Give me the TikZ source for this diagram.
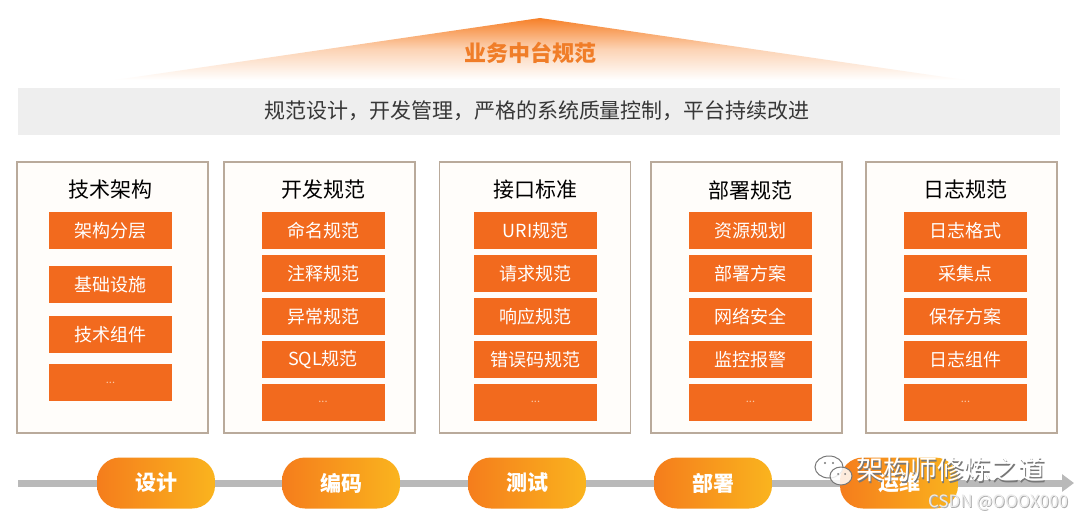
\documentclass[tikz,border=0pt]{standalone}
\usepackage{fontspec}
\setmainfont{Noto Sans CJK SC}
\usetikzlibrary{arrows.meta,shadings}
\definecolor{ora}{RGB}{242,106,30}
\definecolor{boxline}{RGB}{185,170,155}
\definecolor{cream}{RGB}{255,253,250}
\definecolor{barbg}{RGB}{238,238,238}
\definecolor{bartext}{RGB}{55,55,55}
\definecolor{titleora}{RGB}{240,125,40}
\definecolor{triora}{RGB}{246,128,40}
\definecolor{pillL}{RGB}{245,125,28}
\definecolor{pillR}{RGB}{250,180,30}
\definecolor{flowgray}{RGB}{185,185,185}
\definecolor{dotc}{RGB}{250,200,165}
\definecolor{wmgray}{RGB}{120,120,120}
\tikzset{
  colbox/.style={draw=boxline, line width=1.3pt, fill=cream, minimum width=191pt, minimum height=271pt, inner sep=0pt},
  coltitle/.style={font=\fontsize{21}{24}\selectfont, text=black, inner sep=0pt},
  item/.style={fill=ora, minimum width=123pt, minimum height=37pt, inner sep=0pt, text=white, font=\fontsize{18}{21}\selectfont},
  dotitem/.style={item, text=dotc, font=\fontsize{11}{12}\selectfont},
  pill/.style={minimum width=118pt, minimum height=51pt, rounded corners=23pt, left color=pillL, right color=pillR, text=white, font=\bfseries\fontsize{21}{24}\selectfont, inner sep=0pt},
  flow/.style={draw=flowgray, line width=7pt},
  wmtext/.style={font=\fontsize{27}{30}\selectfont, inner sep=0pt},
}
\begin{document}
\begin{tikzpicture}[x=1pt,y=-1pt]
\useasboundingbox (0,0) rectangle (1080,520);
\fill[white] (0,0) rectangle (1080,520);
% top triangle
\shade[top color=triora, bottom color=white, middle color=triora!35] (540,18) -- (965,80) -- (115,80) -- cycle;
\node[font=\bfseries\fontsize{22}{25}\selectfont, text=titleora, inner sep=0pt] (title) at (530,53) {业务中台规范};
% gray bar
\node[fill=barbg, minimum width=1042pt, minimum height=47pt, inner sep=0pt] (bar) at (539,111) {};
\node[font=\fontsize{21}{24}\selectfont, text=bartext, inner sep=0pt] (bartxt) at (537,111) {规范设计，开发管理，严格的系统质量控制，平台持续改进};
% columns
\node[colbox] (c1) at (112.5,297.5) {};
\node[colbox] (c2) at (319.5,297.5) {};
\node[colbox] (c3) at (535,297.5) {};
\node[colbox] (c4) at (746.5,297.5) {};
\node[colbox] (c5) at (961.5,297.5) {};
\node[coltitle] (t1) at (110.5,190) {技术架构};
\node[coltitle] (t2) at (323,190) {开发规范};
\node[coltitle] (t3) at (535.5,190) {接口标准};
\node[coltitle] (t4) at (750.5,190) {部署规范};
\node[coltitle] (t5) at (965.5,190) {日志规范};
% column 1
\node[item] (a1) at (110.5,230.5) {架构分层};
\node[item] (a2) at (110.5,284.5) {基础设施};
\node[item] (a3) at (110.5,334.5) {技术组件};
\node[dotitem] (a4) at (110.5,382.5) {...};
% column 2
\node[item] (b1) at (323,230.5) {命名规范};
\node[item] (b2) at (323,273.5) {注释规范};
\node[item] (b3) at (323,316.5) {异常规范};
\node[item] (b4) at (323,359.5) {SQL规范};
\node[dotitem] (b5) at (323,402) {...};
% column 3
\node[item] (d1) at (535.5,230.5) {URI规范};
\node[item] (d2) at (535.5,273.5) {请求规范};
\node[item] (d3) at (535.5,316.5) {响应规范};
\node[item] (d4) at (535.5,359.5) {错误码规范};
\node[dotitem] (d5) at (535.5,402) {...};
% column 4
\node[item] (e1) at (750.5,230.5) {资源规划};
\node[item] (e2) at (750.5,273.5) {部署方案};
\node[item] (e3) at (750.5,316.5) {网络安全};
\node[item] (e4) at (750.5,359.5) {监控报警};
\node[dotitem] (e5) at (750.5,402) {...};
% column 5
\node[item] (f1) at (965.5,230.5) {日志格式};
\node[item] (f2) at (965.5,273.5) {采集点};
\node[item] (f3) at (965.5,316.5) {保存方案};
\node[item] (f4) at (965.5,359.5) {日志组件};
\node[dotitem] (f5) at (965.5,402) {...};
% process flow
\coordinate (fs) at (18,483);
\coordinate (fe) at (1074,483);
\node[pill] (p1) at (156,483) {设计};
\node[pill] (p2) at (341,483) {编码};
\node[pill] (p3) at (527,483) {测试};
\node[pill] (p4) at (713,483) {部署};
\node[pill] (p5) at (899,483) {运维};
\draw[flow] (fs) -- (p1.west);
\draw[flow] (p1.east) -- (p2.west);
\draw[flow] (p2.east) -- (p3.west);
\draw[flow] (p3.east) -- (p4.west);
\draw[flow] (p4.east) -- (p5.west);
\draw[flow, -{Triangle[length=12pt,width=17pt]}] (p5.east) -- (fe);
% watermark
\draw[wmgray, line width=1pt, fill=white, fill opacity=0.85] (829,467) ellipse [x radius=14pt, y radius=11pt];
\draw[wmgray, line width=1pt, fill=white, fill opacity=0.85] (841,476) ellipse [x radius=11pt, y radius=9pt];
\fill[wmgray] (825,463) circle (1.2pt) (833,463) circle (1.2pt) (838,474) circle (1pt) (845,474) circle (1pt);
\node[wmtext, text=wmgray] (wms) at (952,471) {架构师修炼之道};
\node[wmtext, text=white] (wm) at (950.5,469.5) {架构师修炼之道};
\node[font=\fontsize{17}{20}\selectfont, text=wmgray!60, inner sep=0pt] (csdns) at (999,504) {CSDN @OOOX000};
\node[font=\fontsize{17}{20}\selectfont, text=white!92!black, inner sep=0pt] (csdn) at (998,503) {CSDN @OOOX000};
\end{tikzpicture}
\end{document}
